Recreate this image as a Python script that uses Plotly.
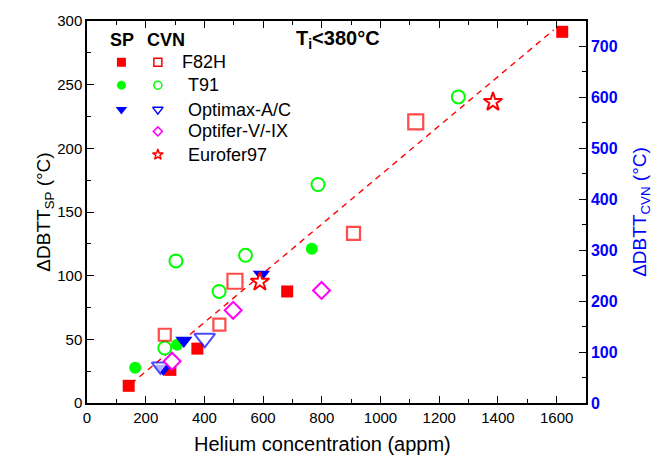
import plotly.graph_objects as go

# ---------------- data ----------------
# F82H
f82h_sp_x = [142, 284, 376, 682, 1619]
f82h_sp_y = [13.5, 26, 42.7, 87.6, 291.5]
f82h_cvn_x = [265, 451, 504, 908, 1120]
f82h_cvn_y = [134, 154, 239, 333, 552]
# T91
t91_sp_x = [164, 307, 766]
t91_sp_y = [27.7, 45.8, 121.2]
t91_cvn_x = [265, 303, 450, 540, 787, 1265]
t91_cvn_y = [108, 279, 219, 290, 429, 601]
# Optimax-A/C
optimax_sp_x = [260, 330, 594]
optimax_sp_y = [27, 49, 101]
optimax_cvn_x = [250, 401]
optimax_cvn_y = [72, 127]
# Optifer-V/-IX
optifer_cvn_x = [290, 498, 799]
optifer_cvn_y = [82, 182, 221]
# Eurofer97
eurofer_cvn_x = [589, 1383]
eurofer_cvn_y = [238, 591]
# fit line
fit_x = [150, 1590]
fit_y = [15, 293]

legend_names = ["F82H", "T91", "Optimax-A/C", "Optifer-V/-IX", "Eurofer97"]
x_ticks = [0, 200, 400, 600, 800, 1000, 1200, 1400, 1600]
y_ticks = [0, 50, 100, 150, 200, 250, 300]
y2_ticks = [0, 100, 200, 300, 400, 500, 600, 700]

# --------------- styles ---------------
RED, GREEN, BLUE, MAG = "#FF0000", "#00FF00", "#0000FF", "#FF00FF"
FONT = "Liberation Sans, Arial, sans-serif"
f82h_cvn_size = [12, 12, 15, 13, 15]
optimax_cvn_size = [15, 18]

fig = go.Figure()

fig.add_trace(go.Scatter(x=fit_x, y=fit_y, mode="lines", xaxis="x", yaxis="y",
                         line=dict(color=RED, width=1.4, dash="6px,5px"),
                         showlegend=False, hoverinfo="skip"))

fig.add_trace(go.Scatter(x=f82h_sp_x, y=f82h_sp_y, mode="markers", yaxis="y",
                         marker=dict(symbol="square", size=12, color=RED, line=dict(width=0)),
                         showlegend=False))
fig.add_trace(go.Scatter(x=t91_sp_x, y=t91_sp_y, mode="markers", yaxis="y",
                         marker=dict(symbol="circle", size=12, color=GREEN, line=dict(width=0)),
                         showlegend=False))
fig.add_trace(go.Scatter(x=optimax_sp_x, y=optimax_sp_y, mode="markers", yaxis="y",
                         marker=dict(symbol="triangle-down", size=15, color=BLUE, line=dict(width=0)),
                         showlegend=False))

fig.add_trace(go.Scatter(x=t91_cvn_x, y=t91_cvn_y, mode="markers", yaxis="y2",
                         marker=dict(symbol="circle", size=13, color="white",
                                     line=dict(width=2, color=GREEN)),
                         showlegend=False))
fig.add_trace(go.Scatter(x=f82h_cvn_x, y=f82h_cvn_y, mode="markers", yaxis="y2",
                         marker=dict(symbol="square", size=f82h_cvn_size, color="white",
                                     line=dict(width=2.2, color=RED)),
                         showlegend=False))
fig.add_trace(go.Scatter(x=optimax_cvn_x, y=optimax_cvn_y, mode="markers", yaxis="y2",
                         marker=dict(symbol="triangle-down", size=optimax_cvn_size, color="white",
                                     line=dict(width=2, color=BLUE)),
                         showlegend=False))
fig.add_trace(go.Scatter(x=optifer_cvn_x, y=optifer_cvn_y, mode="markers", yaxis="y2",
                         marker=dict(symbol="diamond", size=13, color="white",
                                     line=dict(width=2, color=MAG)),
                         showlegend=False))
fig.add_trace(go.Scatter(x=eurofer_cvn_x, y=eurofer_cvn_y, mode="markers", yaxis="y2",
                         marker=dict(symbol="star", size=14, color="white",
                                     line=dict(width=2, color=RED)),
                         showlegend=False))

# ---------- custom legend (overlay axes in plot-area fractions) ----------
rows_y = [0.892, 0.832, 0.768, 0.711, 0.650]
col_sp, col_cvn = 0.069, 0.142
sp_syms = [("square", RED, 9), ("circle", GREEN, 9), ("triangle-down", BLUE, 10)]
cvn_syms = [("square", RED, 8), ("circle", GREEN, 8), ("triangle-down", BLUE, 9),
            ("diamond", MAG, 7), ("star", RED, 8)]
for (sym, col, sz), yy in zip(sp_syms, rows_y):
    fig.add_trace(go.Scatter(x=[col_sp], y=[yy], mode="markers", xaxis="x3", yaxis="y3",
                             marker=dict(symbol=sym, size=sz, color=col, line=dict(width=0)),
                             showlegend=False, hoverinfo="skip"))
for (sym, col, sz), yy in zip(cvn_syms, rows_y):
    fig.add_trace(go.Scatter(x=[col_cvn], y=[yy], mode="markers", xaxis="x3", yaxis="y3",
                             marker=dict(symbol=sym, size=sz, color="white",
                                         line=dict(width=1.5, color=col)),
                             showlegend=False, hoverinfo="skip"))

annotations = []
label_x = [0.186, 0.198, 0.198, 0.198, 0.198]
for name, lx, yy in zip(legend_names, label_x, rows_y):
    annotations.append(dict(x=lx, y=yy, xref="paper", yref="paper", text=name,
                            showarrow=False, xanchor="left", yanchor="middle",
                            font=dict(family=FONT, size=18, color="black")))
annotations.append(dict(x=0.071, y=0.95, xref="paper", yref="paper", text="<b>SP</b>",
                        showarrow=False, xanchor="center", yanchor="middle",
                        font=dict(family=FONT, size=18, color="black")))
annotations.append(dict(x=0.159, y=0.95, xref="paper", yref="paper", text="<b>CVN</b>",
                        showarrow=False, xanchor="center", yanchor="middle",
                        font=dict(family=FONT, size=18, color="black")))
annotations.append(dict(x=0.414, y=0.952, xref="paper", yref="paper",
                        text="<b>T<sub>i</sub>&lt;380°C</b>",
                        showarrow=False, xanchor="left", yanchor="middle",
                        font=dict(family=FONT, size=20, color="black")))
# x-axis title (slightly left of centre, as in the reference)
annotations.append(dict(x=0.471, y=-0.108, xref="paper", yref="paper",
                        text="Helium concentration (appm)",
                        showarrow=False, xanchor="center", yanchor="middle",
                        font=dict(family=FONT, size=20, color="black")))

axis_common = dict(showline=True, linecolor="black", linewidth=1.5, ticks="inside",
                   tickcolor="black", tickwidth=1.2, ticklen=7, showgrid=False,
                   zeroline=False)

fig.update_layout(
    width=670, height=460,
    margin=dict(l=87, r=84, t=15, b=57),
    paper_bgcolor="white", plot_bgcolor="white",
    font=dict(family=FONT, color="black"),
    showlegend=False,
    annotations=annotations,
    xaxis=dict(range=[0, 1700], tickvals=x_ticks, mirror="ticks",
               minor=dict(dtick=100, ticks="inside", ticklen=4, tickcolor="black", tickwidth=1.2),
               tickfont=dict(family=FONT, size=15, color="black"),
               **axis_common),
    yaxis=dict(range=[0, 300], tickvals=y_ticks,
               minor=dict(dtick=25, ticks="inside", ticklen=4, tickcolor="black", tickwidth=1.2),
               tickfont=dict(family=FONT, size=15, color="black"),
               title=dict(text="ΔDBTT<sub>SP</sub> (°C)", standoff=2,
                          font=dict(family=FONT, size=19, color="black")),
               **axis_common),
    yaxis2=dict(range=[0, 750], tickvals=y2_ticks, overlaying="y", side="right",
                minor=dict(dtick=50, ticks="inside", ticklen=4, tickcolor="black", tickwidth=1.2),
                tickfont=dict(family=FONT, size=16, color=BLUE, weight="bold"),
                title=dict(text="ΔDBTT<sub>CVN</sub> (°C)", standoff=16,
                           font=dict(family=FONT, size=19, color=BLUE)),
                **axis_common),
    xaxis3=dict(range=[0, 1], overlaying="x", visible=False, fixedrange=True),
    yaxis3=dict(range=[0, 1], overlaying="y", visible=False, fixedrange=True),
)

fig.write_html("out.html")
